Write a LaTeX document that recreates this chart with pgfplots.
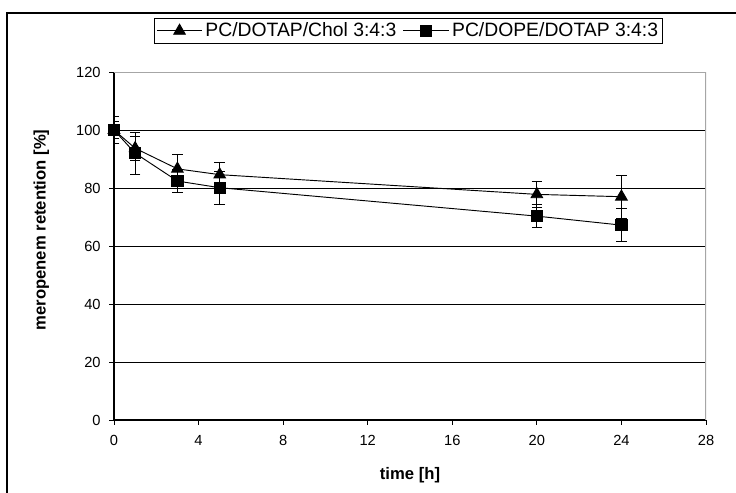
\documentclass[border=0pt]{standalone}
\usepackage{pgfplots}
\pgfplotsset{compat=1.18}
\usepackage{fontspec}
\setmainfont{Liberation Sans}

\begin{document}
\begin{tikzpicture}
% canvas 736x493 px, 1px = 0.75pt
\path[use as bounding box] (0,0) rectangle (552pt,-369.75pt);
\draw[line width=0.8pt] (5.25pt,-369.75pt) -- (5.25pt,-9.75pt) -- (552pt,-9.75pt);
\begin{axis}[
    at={(85.5pt,-315pt)}, anchor=south west,
    scale only axis,
    width=444pt, height=261pt,
    xmin=0, xmax=28, ymin=0, ymax=120,
    xtick={0,4,...,28}, ytick={0,20,...,120},
    axis x line*=bottom, axis y line*=left,
    axis line style={black, line width=0.8pt, -},
    tick align=outside, major tick length=3.5pt,
    tick style={black, line width=0.6pt},
    ymajorgrids=true,
    grid style={black, line width=0.6pt},
    /pgf/number format/assume math mode=true,
    ticklabel style={font=\fontsize{11}{13}\selectfont},
    xticklabel style={yshift=-4.5pt},
    yticklabel style={xshift=-3pt},
    xlabel={\textbf{time [h]}},
    ylabel={\textbf{meropenem retention [\%]}},
    label style={font=\fontsize{12.5}{14}\selectfont},
    xlabel style={at={(axis description cs:0.5,-0.158)}, anchor=center},
    ylabel style={at={(axis description cs:-0.1227,0.546)}, anchor=center},
    legend columns=2,
    legend style={at={(axis description cs:0.4975,1.118)}, anchor=center,
        draw=black, line width=0.7pt, font=\fontsize{14.5}{16}\selectfont,
        inner sep=1.5pt,
        /tikz/every even column/.append style={column sep=3pt}},
    legend image code/.code={\draw[mark repeat=2,mark phase=2,#1]
        plot coordinates {(0cm,0cm) (0.6cm,0cm) (1.2cm,0cm)};},
]
\draw[gray!70, line width=0.8pt] (rel axis cs:0,1) -- (rel axis cs:1,1) -- (rel axis cs:1,0);
\addplot[black, line width=0.7pt, mark=triangle*, mark size=5pt,
    error bars/.cd, y dir=both, y explicit,
    error bar style={line width=0.8pt, solid},
    error mark options={rotate=90, mark size=4pt, line width=0.8pt}]
    table[x=t, y=r, y error=e] {
t   r     e
0   100   3.0
1   93.7  4.2
3   86.6  5.0
5   84.6  4.1
20  77.8  4.4
24  77.0  7.4
};
\addlegendentry{PC/DOTAP/Chol 3:4:3}
\addplot[black, line width=0.7pt, mark=square*, mark size=4.2pt,
    error bars/.cd, y dir=both, y explicit,
    error bar style={line width=0.8pt, solid},
    error mark options={rotate=90, mark size=4pt, line width=0.8pt}]
    table[x=t, y=r, y error=e] {
t   r     e
0   100   4.6
1   92.0  7.2
3   82.4  4.1
5   80.1  5.7
20  70.3  4.0
24  67.2  5.7
};
\addlegendentry{PC/DOPE/DOTAP 3:4:3}
\end{axis}
\end{tikzpicture}
\end{document}
